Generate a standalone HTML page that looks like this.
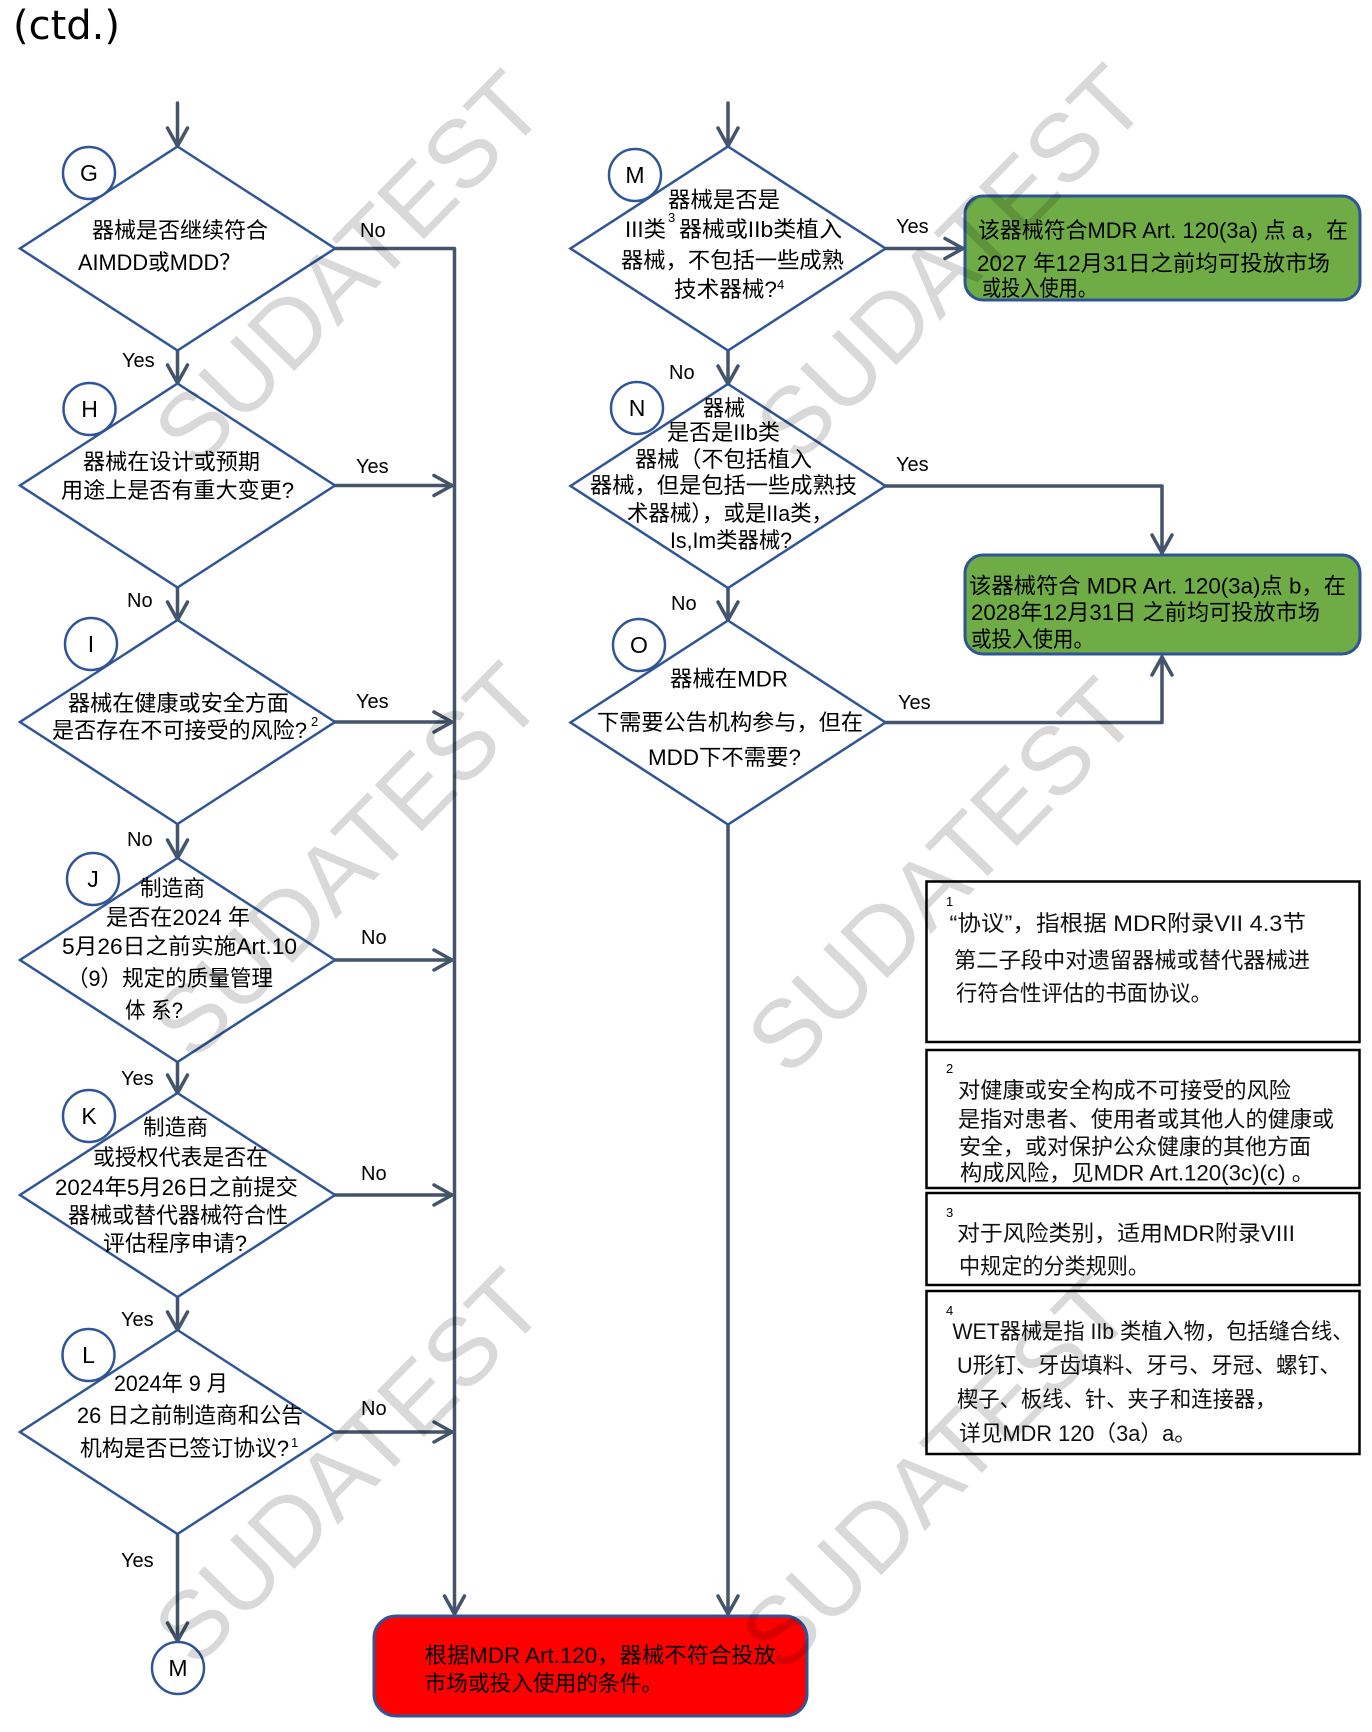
<!DOCTYPE html>
<html><head><meta charset="utf-8"><style>
html,body{margin:0;padding:0;background:#fff;}
svg{display:block;}
.t{font-family:"Liberation Sans","Noto Sans CJK SC",sans-serif;font-size:22px;fill:#000;}
.f{font-family:"Liberation Sans","Noto Sans CJK SC",sans-serif;font-size:22px;fill:#111;}
.s{font-family:"Liberation Sans",sans-serif;font-size:13px;fill:#000;}
.lb{font-family:"Liberation Sans",sans-serif;font-size:20px;fill:#000;}
.cl{font-family:"Liberation Sans",sans-serif;font-size:23px;fill:#000;}
.wm{font-family:"Liberation Sans",sans-serif;font-size:96px;fill:#000;fill-opacity:0.15;}
</style></head><body>
<svg width="1372" height="1732" viewBox="0 0 1372 1732" xmlns="http://www.w3.org/2000/svg">
<rect width="1372" height="1732" fill="#fff"/>
<text x="13" y="39" font-family="DejaVu Sans, sans-serif" font-size="40" fill="#000">(ctd.)</text>

<!-- connectors -->
<g stroke="#44546A" stroke-width="3.5" fill="none" stroke-linecap="round" stroke-linejoin="round">
  <!-- left entry -->
  <line x1="177.5" y1="103" x2="177.5" y2="146"/><polyline points="167.5,128 177.5,146 187.5,128"/>
  <!-- left column verticals -->
  <line x1="177.5" y1="350.5" x2="177.5" y2="383"/><polyline points="167.5,365 177.5,383 187.5,365"/>
  <line x1="177.5" y1="587.5" x2="177.5" y2="620"/><polyline points="167.5,602 177.5,620 187.5,602"/>
  <line x1="177.5" y1="824" x2="177.5" y2="858"/><polyline points="167.5,840 177.5,858 187.5,840"/>
  <line x1="177.5" y1="1062" x2="177.5" y2="1093"/><polyline points="167.5,1075 177.5,1093 187.5,1075"/>
  <line x1="177.5" y1="1297" x2="177.5" y2="1330"/><polyline points="167.5,1312 177.5,1330 187.5,1312"/>
  <line x1="177.5" y1="1534" x2="177.5" y2="1641"/><polyline points="167.5,1623 177.5,1641 187.5,1623"/>
  <!-- big vertical to red -->
  <polyline points="335,248.5 454.5,248.5 454.5,1614"/><polyline points="444.5,1596 454.5,1614 464.5,1596"/>
  <!-- right arrows into vertical -->
  <line x1="335" y1="485.5" x2="452" y2="485.5"/><polyline points="434,475.5 452,485.5 434,495.5"/>
  <line x1="335" y1="722" x2="452" y2="722"/><polyline points="434,712 452,722 434,732"/>
  <line x1="335" y1="960" x2="452" y2="960"/><polyline points="434,950 452,960 434,970"/>
  <line x1="335" y1="1195" x2="452" y2="1195"/><polyline points="434,1185 452,1195 434,1205"/>
  <line x1="335" y1="1432" x2="452" y2="1432"/><polyline points="434,1422 452,1432 434,1442"/>
  <!-- middle entry -->
  <line x1="728" y1="103" x2="728" y2="146"/><polyline points="718,128 728,146 738,128"/>
  <line x1="728" y1="350.5" x2="728" y2="384"/><polyline points="718,366 728,384 738,366"/>
  <line x1="728" y1="588" x2="728" y2="620"/><polyline points="718,602 728,620 738,602"/>
  <line x1="728" y1="824.5" x2="728" y2="1614"/><polyline points="718,1596 728,1614 738,1596"/>
  <!-- M yes -->
  <line x1="885.5" y1="248.5" x2="963" y2="248.5"/><polyline points="945,238.5 963,248.5 945,258.5"/>
  <!-- N yes -->
  <polyline points="885.5,486 1162,486 1162,553"/><polyline points="1152,535 1162,553 1172,535"/>
  <!-- O yes -->
  <polyline points="885.5,722.5 1162,722.5 1162,657"/><polyline points="1152,675 1162,657 1172,675"/>
</g>

<!-- diamonds -->
<g stroke="#2F5597" stroke-width="2.5" fill="#fff" stroke-linejoin="miter">
  <polygon points="177.5,146.5 335,248.5 177.5,350.5 20,248.5"/>
  <polygon points="177.5,383.5 335,485.5 177.5,587.5 20,485.5"/>
  <polygon points="177.5,620 335,722 177.5,824 20,722"/>
  <polygon points="177.5,858 335,960 177.5,1062 20,960"/>
  <polygon points="177.5,1093 335,1195 177.5,1297 20,1195"/>
  <polygon points="177.5,1330 335,1432 177.5,1534 20,1432"/>
  <polygon points="728,146.5 885.5,248.5 728,350.5 570.5,248.5"/>
  <polygon points="728,384 885.5,486 728,588 570.5,486"/>
  <polygon points="728,620.5 885.5,722.5 728,824.5 570.5,722.5"/>
  <!-- circles -->
  <circle cx="89" cy="173" r="26"/>
  <circle cx="89.5" cy="409" r="26"/>
  <circle cx="91" cy="644" r="26"/>
  <circle cx="93" cy="879" r="26"/>
  <circle cx="89" cy="1116" r="26"/>
  <circle cx="88.5" cy="1355" r="26"/>
  <circle cx="178" cy="1668" r="26"/>
  <circle cx="635" cy="175" r="26"/>
  <circle cx="637" cy="408" r="26"/>
  <circle cx="639" cy="645" r="26"/>
</g>
<g class="cl" text-anchor="middle">
  <text x="89" y="181" class="cl">G</text>
  <text x="89.5" y="417" class="cl">H</text>
  <text x="91" y="652" class="cl">I</text>
  <text x="93" y="887" class="cl">J</text>
  <text x="89" y="1124" class="cl">K</text>
  <text x="88.5" y="1363" class="cl">L</text>
  <text x="178" y="1676" class="cl">M</text>
  <text x="635" y="183" class="cl">M</text>
  <text x="637" y="416" class="cl">N</text>
  <text x="639" y="653" class="cl">O</text>
</g>

<!-- boxes -->
<rect x="965" y="196" width="395" height="104" rx="18" ry="18" fill="#6FAC46" stroke="#2F5597" stroke-width="3"/>
<rect x="965" y="555" width="395" height="99" rx="18" ry="18" fill="#6FAC46" stroke="#2F5597" stroke-width="3"/>
<rect x="374" y="1616" width="433" height="100" rx="22" ry="22" fill="#FF0000" stroke="#2F5597" stroke-width="3"/>
<g fill="#fff" stroke="#000" stroke-width="2.5">
  <rect x="926.5" y="881.5" width="433" height="160.5"/>
  <rect x="926.5" y="1050" width="433" height="138"/>
  <rect x="926.5" y="1193" width="433" height="92"/>
  <rect x="926.5" y="1291" width="433" height="163"/>
</g>

<!-- labels -->
<g class="lb">
  <text x="360" y="237">No</text>
  <text x="122" y="367">Yes</text>
  <text x="356" y="473">Yes</text>
  <text x="127" y="607">No</text>
  <text x="356" y="708">Yes</text>
  <text x="127" y="846">No</text>
  <text x="361" y="944">No</text>
  <text x="121" y="1085">Yes</text>
  <text x="361" y="1180">No</text>
  <text x="121" y="1326">Yes</text>
  <text x="361" y="1415">No</text>
  <text x="121" y="1567">Yes</text>
  <text x="896" y="233">Yes</text>
  <text x="669" y="379">No</text>
  <text x="896" y="471">Yes</text>
  <text x="671" y="610">No</text>
  <text x="898" y="709">Yes</text>
</g>

<!-- diamond texts -->
<g class="t" lengthAdjust="spacingAndGlyphs">
  <text x="92" y="238" textLength="176" lengthAdjust="spacingAndGlyphs">器械是否继续符合</text>
  <text x="78" y="270" textLength="163" lengthAdjust="spacingAndGlyphs">AIMDD或MDD？</text>
  <text x="83" y="469.5" textLength="177" lengthAdjust="spacingAndGlyphs">器械在设计或预期</text>
  <text x="61" y="498" textLength="233" lengthAdjust="spacingAndGlyphs">用途上是否有重大变更?</text>
  <text x="68" y="711" textLength="221" lengthAdjust="spacingAndGlyphs">器械在健康或安全方面</text>
  <text x="52" y="738" textLength="255" lengthAdjust="spacingAndGlyphs">是否存在不可接受的风险?</text>
  <text x="140" y="896" textLength="65" lengthAdjust="spacingAndGlyphs">制造商</text>
  <text x="106" y="925" textLength="144" lengthAdjust="spacingAndGlyphs">是否在2024 年</text>
  <text x="62" y="954" textLength="235" lengthAdjust="spacingAndGlyphs">5月26日之前实施Art.10</text>
  <text x="67" y="986" textLength="206" lengthAdjust="spacingAndGlyphs">（9）规定的质量管理</text>
  <text x="125" y="1018" textLength="58" lengthAdjust="spacingAndGlyphs">体 系?</text>
  <text x="143" y="1135" textLength="65" lengthAdjust="spacingAndGlyphs">制造商</text>
  <text x="93" y="1165" textLength="175" lengthAdjust="spacingAndGlyphs">或授权代表是否在</text>
  <text x="55" y="1195" textLength="243" lengthAdjust="spacingAndGlyphs">2024年5月26日之前提交</text>
  <text x="68" y="1223" textLength="220" lengthAdjust="spacingAndGlyphs">器械或替代器械符合性</text>
  <text x="103" y="1251" textLength="144" lengthAdjust="spacingAndGlyphs">评估程序申请?</text>
  <text x="114" y="1391" textLength="114" lengthAdjust="spacingAndGlyphs">2024年 9 月</text>
  <text x="77" y="1423" textLength="226" lengthAdjust="spacingAndGlyphs">26 日之前制造商和公告</text>
  <text x="80" y="1456" textLength="209" lengthAdjust="spacingAndGlyphs">机构是否已签订协议?</text>

  <text x="668" y="207.5" textLength="112" lengthAdjust="spacingAndGlyphs">器械是否是</text>
  <text x="625" y="237" textLength="41" lengthAdjust="spacingAndGlyphs">III类</text>
  <text x="679" y="237" textLength="163" lengthAdjust="spacingAndGlyphs">器械或IIb类植入</text>
  <text x="621" y="268" textLength="223" lengthAdjust="spacingAndGlyphs">器械，不包括一些成熟</text>
  <text x="674" y="297" textLength="103" lengthAdjust="spacingAndGlyphs">技术器械?</text>

  <text x="703" y="416" textLength="42" lengthAdjust="spacingAndGlyphs">器械</text>
  <text x="667" y="440" textLength="113" lengthAdjust="spacingAndGlyphs">是否是IIb类</text>
  <text x="635" y="467" textLength="177" lengthAdjust="spacingAndGlyphs">器械（不包括植入</text>
  <text x="590" y="493" textLength="267" lengthAdjust="spacingAndGlyphs">器械，但是包括一些成熟技</text>
  <text x="627" y="521" textLength="206" lengthAdjust="spacingAndGlyphs">术器械），或是IIa类，</text>
  <text x="670" y="548" textLength="122" lengthAdjust="spacingAndGlyphs">Is,Im类器械?</text>

  <text x="670" y="686.5" textLength="118" lengthAdjust="spacingAndGlyphs">器械在MDR</text>
  <text x="597" y="730" textLength="266" lengthAdjust="spacingAndGlyphs">下需要公告机构参与，但在</text>
  <text x="648" y="765" textLength="153" lengthAdjust="spacingAndGlyphs">MDD下不需要?</text>

  <text x="978" y="238" textLength="370" lengthAdjust="spacingAndGlyphs">该器械符合MDR Art. 120(3a) 点 a，在</text>
  <text x="977" y="271" textLength="353" lengthAdjust="spacingAndGlyphs">2027 年12月31日之前均可投放市场</text>
  <text x="982" y="296" textLength="115" lengthAdjust="spacingAndGlyphs">或投入使用。</text>
  <text x="969" y="593.6" textLength="377" lengthAdjust="spacingAndGlyphs">该器械符合 MDR Art. 120(3a)点 b，在</text>
  <text x="971" y="620" textLength="349" lengthAdjust="spacingAndGlyphs">2028年12月31日 之前均可投放市场</text>
  <text x="971" y="647" textLength="123" lengthAdjust="spacingAndGlyphs">或投入使用。</text>

  <text x="424.5" y="1663" textLength="351.5" lengthAdjust="spacingAndGlyphs">根据MDR Art.120，器械不符合投放</text>
  <text x="424.5" y="1691" textLength="238.5" lengthAdjust="spacingAndGlyphs">市场或投入使用的条件。</text>
</g>
<g class="f">
  <text x="949.5" y="931" textLength="356.5" lengthAdjust="spacingAndGlyphs">“协议”，指根据 MDR附录VII 4.3节</text>
  <text x="954" y="968" textLength="356" lengthAdjust="spacingAndGlyphs">第二子段中对遗留器械或替代器械进</text>
  <text x="956" y="1001" textLength="256" lengthAdjust="spacingAndGlyphs">行符合性评估的书面协议。</text>
  <text x="958" y="1098" textLength="333" lengthAdjust="spacingAndGlyphs">对健康或安全构成不可接受的风险</text>
  <text x="958" y="1127" textLength="376" lengthAdjust="spacingAndGlyphs">是指对患者、使用者或其他人的健康或</text>
  <text x="959" y="1154.5" textLength="352" lengthAdjust="spacingAndGlyphs">安全，或对保护公众健康的其他方面</text>
  <text x="960" y="1180.5" textLength="354" lengthAdjust="spacingAndGlyphs">构成风险，见MDR Art.120(3c)(c) 。</text>
  <text x="957" y="1241" textLength="338" lengthAdjust="spacingAndGlyphs">对于风险类别，适用MDR附录VIII</text>
  <text x="959" y="1274" textLength="190" lengthAdjust="spacingAndGlyphs">中规定的分类规则。</text>
  <text x="952.5" y="1339" textLength="401" lengthAdjust="spacingAndGlyphs">WET器械是指 IIb 类植入物，包括缝合线、</text>
  <text x="957" y="1373" textLength="384" lengthAdjust="spacingAndGlyphs">U形钉、牙齿填料、牙弓、牙冠、螺钉、</text>
  <text x="957" y="1407" textLength="319.5" lengthAdjust="spacingAndGlyphs">楔子、板线、针、夹子和连接器，</text>
  <text x="959" y="1441" textLength="237" lengthAdjust="spacingAndGlyphs">详见MDR 120（3a）a。</text>
</g>
<!-- superscripts -->
<g class="s">
  <text x="311" y="726">2</text>
  <text x="291" y="1447">1</text>
  <text x="668" y="222">3</text>
  <text x="777" y="289">4</text>
  <text x="946" y="906">1</text>
  <text x="946" y="1073">2</text>
  <text x="946" y="1217">3</text>
  <text x="946" y="1315">4</text>
</g>

<!-- watermarks -->
<g class="wm" text-anchor="middle">
  <text transform="translate(348,268) rotate(-45.5)" y="34">SUDATEST</text>
  <text transform="translate(950,262) rotate(-45.5)" y="34">SUDATEST</text>
  <text transform="translate(346,860) rotate(-45.5)" y="34">SUDATEST</text>
  <text transform="translate(941,875) rotate(-45.5)" y="34">SUDATEST</text>
  <text transform="translate(348,1466) rotate(-45.5)" y="34">SUDATEST</text>
  <text transform="translate(935,1472) rotate(-45.5)" y="34">SUDATEST</text>
</g>
</svg>
</body></html>
